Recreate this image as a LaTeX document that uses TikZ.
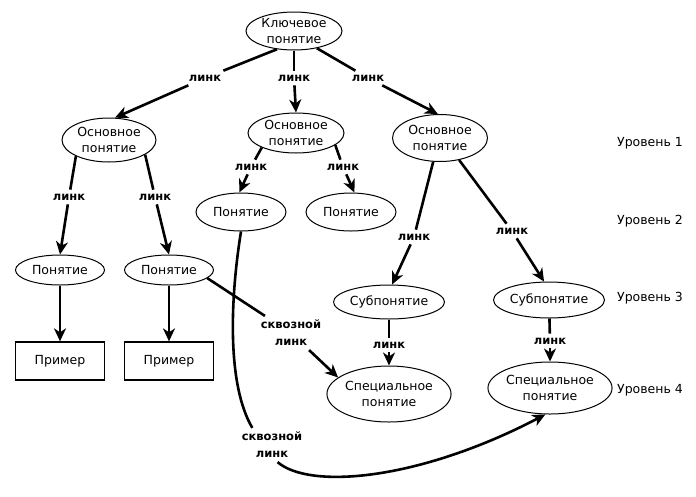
\documentclass[tikz,border=0pt]{standalone}
\usepackage{fontspec}
\setmainfont{DejaVu Sans}
\usetikzlibrary{shapes.geometric,arrows.meta}
\begin{document}
\begin{tikzpicture}[x=1pt,y=-1pt,
  concept/.style={ellipse,draw,line width=1pt,inner sep=0pt,align=center,font=\fontsize{12.5}{16}\selectfont},
  example/.style={rectangle,draw,line width=1.3pt,minimum width=89pt,minimum height=38pt,inner sep=0pt,font=\fontsize{12.5}{16}\selectfont},
  lnk/.style={inner sep=4pt,align=center,font=\bfseries\fontsize{11.5}{17}\selectfont},
  lvl/.style={inner sep=0pt,font=\fontsize{12.5}{16}\selectfont},
  conn/.style={line width=2.6pt},
  arr/.style={conn,-{Stealth[length=13pt,width=12pt,inset=4pt]}}
]
\useasboundingbox (0,0) rectangle (696,496);

% concept nodes
\node[concept,minimum width=96pt,minimum height=38pt] (key) at (294,31) {Ключевое\\понятие};
\node[concept,minimum width=94pt,minimum height=44pt] (osn1) at (109,140) {Основное\\понятие};
\node[concept,minimum width=96pt,minimum height=40pt] (osn2) at (296,133) {Основное\\понятие};
\node[concept,minimum width=95pt,minimum height=47pt] (osn3) at (440,138) {Основное\\понятие};
\node[concept,minimum width=90pt,minimum height=38pt] (pon3) at (241,212) {Понятие};
\node[concept,minimum width=90pt,minimum height=38pt] (pon4) at (351,212) {Понятие};
\node[concept,minimum width=89pt,minimum height=30pt] (pon1) at (60,270) {Понятие};
\node[concept,minimum width=89pt,minimum height=30pt] (pon2) at (169,270) {Понятие};
\node[example] (ex1) at (60,361) {Пример};
\node[example] (ex2) at (169,361) {Пример};
\node[concept,minimum width=108pt,minimum height=34pt] (sub1) at (389,302) {Субпонятие};
\node[concept,minimum width=107pt,minimum height=36pt] (sub2) at (549,300) {Субпонятие};
\node[concept,minimum width=108pt,minimum height=56pt] (spec1) at (389,394) {Специальное\\понятие};
\node[concept,minimum width=108pt,minimum height=52pt] (spec2) at (550,388) {Специальное\\понятие};

% level labels
\node[lvl] (lv1) at (650,143) {Уровень 1};
\node[lvl] (lv2) at (650,221) {Уровень 2};
\node[lvl] (lv3) at (650,298) {Уровень 3};
\node[lvl] (lv4) at (650,390) {Уровень 4};

% link labels
\node[lnk] (l1) at (205,78) {линк};
\node[lnk] (l2) at (294,78) {линк};
\node[lnk] (l3) at (368,78) {линк};
\node[lnk] (l4) at (69,197) {линк};
\node[lnk] (l5) at (155,197) {линк};
\node[lnk] (l6) at (251,167) {линк};
\node[lnk] (l7) at (343,167) {линк};
\node[lnk] (l8) at (414,237) {линк};
\node[lnk] (l9) at (512,231) {линк};
\node[lnk] (l10) at (389,345) {линк};
\node[lnk] (l11) at (550,341) {линк};
\node[lnk] (l12) at (291,333) {сквозной\\линк};
\node[lnk] (l13) at (272,445) {сквозной\\линк};

% connectors
\draw[conn] (key.227) -- (l1);
\draw[arr] (l1) -- (osn1.75);
\draw[conn] (key.270) -- (l2);
\draw[arr] (l2) -- (osn2.north);
\draw[conn] (key.323) -- (l3);
\draw[arr] (l3) -- (osn3.95);

\draw[conn] (osn1.206) -- (l4);
\draw[arr] (l4) -- (pon1.north);
\draw[conn] (osn1.338) -- (l5);
\draw[arr] (l5) -- (pon2.north);

\draw[conn] (osn2.203) -- (l6);
\draw[arr] (l6) -- (pon3.95);
\draw[conn] (osn2.343) -- (l7);
\draw[arr] (l7) -- (pon4.80);

\draw[conn] (osn3.254) -- (l8);
\draw[arr] (l8) -- (sub1.80);
\draw[conn] (osn3.311) -- (l9);
\draw[arr] (l9) -- (sub2.105);

\draw[conn] (sub1) -- (l10);
\draw[arr] (l10) -- (spec1);
\draw[conn] (sub2) -- (l11);
\draw[arr] (l11) -- (spec2);

\draw[arr] (pon1) -- (ex1);
\draw[arr] (pon2) -- (ex2);

\draw[conn] (pon2.348) -- (l12);
\draw[arr] (l12) -- (spec1.162);

\draw[conn] (pon3.south) .. controls (230,300) and (227,385) .. (l13.139);
\draw[arr] (l13.288) .. controls (310,490) and (420,480) .. (spec2.260);
\end{tikzpicture}
\end{document}
